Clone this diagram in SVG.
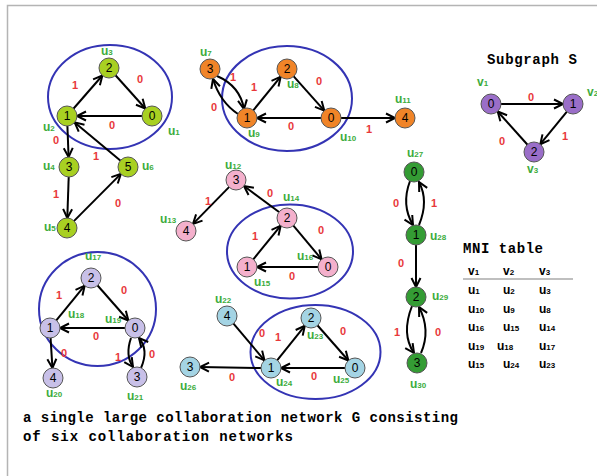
<svg xmlns="http://www.w3.org/2000/svg" width="597" height="476" viewBox="0 0 597 476">
  <defs>
    <marker id="arr" markerUnits="userSpaceOnUse" markerWidth="12" markerHeight="12" refX="9" refY="4.5" orient="auto" overflow="visible">
      <path d="M0,0 L9,4.5 L0,9" fill="none" stroke="#000" stroke-width="2" stroke-linejoin="miter"/>
    </marker>
    <style>
      .edge { fill: none; stroke: #000; stroke-width: 2; marker-end: url(#arr); }
      .ring { fill: none; stroke: #3434b4; stroke-width: 2; }
      .node { stroke: #555; stroke-width: 1; }
      .n { font-family: "Liberation Sans", Arial, sans-serif; font-size: 12px; fill: #000; text-anchor: middle; }
      .w { font-family: "Liberation Sans", Arial, sans-serif; font-size: 11px; font-weight: bold; fill: #e8383a; text-anchor: middle; }
      .u { font-family: "Liberation Sans", Arial, sans-serif; font-size: 12px; font-weight: bold; fill: #3cac3c; }
      .t { font-family: "Liberation Sans", Arial, sans-serif; font-size: 12px; font-weight: bold; fill: #000; }
      .s { font-size: 8px; }
      .title { font-family: "Liberation Mono", "Courier New", monospace; font-size: 14px; font-weight: bold; fill: #000; }
      .g1 { fill: #a8d022; }
      .g2 { fill: #f08428; }
      .gs { fill: #9a6ec8; }
      .g3 { fill: #f4b0cc; }
      .g4 { fill: #349c34; }
      .g5 { fill: #c8c0e8; }
      .g6 { fill: #a4d4e4; }
    </style>
  </defs>

  <rect width="597" height="476" fill="#fff"/>
  <!-- frame -->
  <path d="M7.5,476 V5.5 H597" fill="none" stroke="#b4b4b4" stroke-width="1.5"/>

  <!-- highlighted triangles -->
  <g id="rings">
    <ellipse class="ring" cx="110" cy="97" rx="62" ry="52"/>
    <ellipse class="ring" cx="287" cy="98.5" rx="65" ry="52.5"/>
    <ellipse class="ring" cx="290" cy="251.5" rx="63" ry="47"/>
    <ellipse class="ring" cx="97.5" cy="309" rx="58.5" ry="57"/>
    <ellipse class="ring" cx="315.5" cy="352" rx="65" ry="47"/>
  </g>

  <g id="connectors">
    <!-- network 1 -->
    <line class="edge" x1="73.6" y1="108.5" x2="102.4" y2="75.5"/>
    <line class="edge" x1="115.7" y1="75.5" x2="145.3" y2="108.5"/>
    <line class="edge" x1="142" y1="116" x2="77" y2="116"/>
    <line class="edge" x1="67.4" y1="126" x2="68.6" y2="157"/>
    <line class="edge" x1="120.3" y1="160.6" x2="74.7" y2="122.4"/>
    <line class="edge" x1="68.7" y1="177" x2="67.3" y2="218"/>
    <line class="edge" x1="74.1" y1="220.9" x2="120.9" y2="173.9"/>
    <!-- network 2 -->
    <path class="edge" d="M217,76 Q240,86 244,109"/>
    <path class="edge" d="M238,114 Q220,102 213,79"/>
    <line class="edge" x1="253.3" y1="110.3" x2="280.7" y2="76.7"/>
    <line class="edge" x1="293.7" y1="76.4" x2="324.3" y2="110.6"/>
    <line class="edge" x1="321" y1="118" x2="257" y2="118"/>
    <line class="edge" x1="341" y1="118" x2="395" y2="118"/>
    <!-- subgraph S -->
    <line class="edge" x1="501" y1="104" x2="563" y2="104"/>
    <line class="edge" x1="566.7" y1="111.8" x2="540.3" y2="144.2"/>
    <line class="edge" x1="527.3" y1="144.5" x2="497.7" y2="111.5"/>
    <!-- network 3 -->
    <line class="edge" x1="279" y1="212" x2="244" y2="186"/>
    <line class="edge" x1="229" y1="187.1" x2="193" y2="223.9"/>
    <line class="edge" x1="253.3" y1="259.3" x2="280.7" y2="225.7"/>
    <line class="edge" x1="293.4" y1="225.7" x2="321.6" y2="259.3"/>
    <line class="edge" x1="318" y1="267" x2="257" y2="267"/>
    <!-- network 4 -->
    <path class="edge" d="M410,181 Q401,205 413,225"/>
    <path class="edge" d="M419,225 Q429,201 419,182"/>
    <line class="edge" x1="416" y1="245" x2="416" y2="287"/>
    <path class="edge" d="M412,306 Q401,334 414,353"/>
    <path class="edge" d="M421,353 Q431,330 419,307"/>
    <!-- network 5 -->
    <line class="edge" x1="56.3" y1="320.3" x2="84.7" y2="285.7"/>
    <line class="edge" x1="97.6" y1="285.5" x2="128.4" y2="320.5"/>
    <line class="edge" x1="125" y1="328" x2="60" y2="328"/>
    <line class="edge" x1="50.6" y1="338" x2="52.4" y2="368"/>
    <path class="edge" d="M131,338 Q125,355 133,367"/>
    <path class="edge" d="M141,368 Q149,350 139,338"/>
    <!-- network 6 -->
    <line class="edge" x1="233.5" y1="323.6" x2="264.5" y2="360.4"/>
    <line class="edge" x1="277.3" y1="360.2" x2="304.8" y2="325.8"/>
    <line class="edge" x1="317.6" y1="325.5" x2="348.4" y2="360.5"/>
    <line class="edge" x1="345" y1="368" x2="281" y2="368"/>
    <line class="edge" x1="261" y1="368" x2="200" y2="367"/>
  </g>

  <g id="edge-labels">
    <text class="w" x="75" y="89">1</text>
    <text class="w" x="140" y="83">0</text>
    <text class="w" x="112" y="129">0</text>
    <text class="w" x="56" y="144">0</text>
    <text class="w" x="96" y="160">1</text>
    <text class="w" x="56" y="198">1</text>
    <text class="w" x="118" y="207">0</text>

    <text class="w" x="233" y="81">1</text>
    <text class="w" x="214" y="111">0</text>
    <text class="w" x="254" y="91">1</text>
    <text class="w" x="319" y="85">0</text>
    <text class="w" x="291" y="130">0</text>
    <text class="w" x="369" y="133">1</text>

    <text class="w" x="531" y="101">0</text>
    <text class="w" x="565" y="140">1</text>
    <text class="w" x="502" y="145">0</text>

    <text class="w" x="270" y="197">0</text>
    <text class="w" x="208" y="205">1</text>
    <text class="w" x="255" y="240">1</text>
    <text class="w" x="321" y="234">0</text>
    <text class="w" x="292" y="280">0</text>

    <text class="w" x="396" y="207">0</text>
    <text class="w" x="434" y="207">1</text>
    <text class="w" x="401" y="267">0</text>
    <text class="w" x="397" y="336">1</text>
    <text class="w" x="438" y="336">0</text>

    <text class="w" x="59" y="299">1</text>
    <text class="w" x="124" y="294">0</text>
    <text class="w" x="96" y="340">0</text>
    <text class="w" x="64" y="357">0</text>
    <text class="w" x="118" y="361">1</text>
    <text class="w" x="152" y="358">0</text>

    <text class="w" x="262" y="337">0</text>
    <text class="w" x="278" y="341">1</text>
    <text class="w" x="343" y="335">0</text>
    <text class="w" x="314" y="380">0</text>
    <text class="w" x="232" y="381">0</text>
  </g>

  <!-- network 1 -->
  <g id="u1"><circle class="node g1" cx="152" cy="116" r="10"/><text class="n" x="152" y="120">0</text><text class="u" x="168" y="135">u<tspan class="s">1</tspan></text></g>
  <g id="u2"><circle class="node g1" cx="67" cy="116" r="10"/><text class="n" x="67" y="120">1</text><text class="u" x="43" y="131">u<tspan class="s">2</tspan></text></g>
  <g id="u3"><circle class="node g1" cx="109" cy="68" r="10"/><text class="n" x="109" y="72">2</text><text class="u" x="101" y="55">u<tspan class="s">3</tspan></text></g>
  <g id="u4"><circle class="node g1" cx="69" cy="167" r="10"/><text class="n" x="69" y="171">3</text><text class="u" x="43" y="170">u<tspan class="s">4</tspan></text></g>
  <g id="u5"><circle class="node g1" cx="67" cy="228" r="10"/><text class="n" x="67" y="232">4</text><text class="u" x="44" y="231">u<tspan class="s">5</tspan></text></g>
  <g id="u6"><circle class="node g1" cx="128" cy="167" r="10"/><text class="n" x="128" y="171">5</text><text class="u" x="142" y="170">u<tspan class="s">6</tspan></text></g>

  <!-- network 2 -->
  <g id="u7"><circle class="node g2" cx="210" cy="69" r="10"/><text class="n" x="210" y="73">3</text><text class="u" x="200" y="56">u<tspan class="s">7</tspan></text></g>
  <g id="u8"><circle class="node g2" cx="287" cy="69" r="10"/><text class="n" x="287" y="73">2</text><text class="u" x="287" y="88">u<tspan class="s">8</tspan></text></g>
  <g id="u9"><circle class="node g2" cx="247" cy="118" r="10"/><text class="n" x="247" y="122">1</text><text class="u" x="248" y="137">u<tspan class="s">9</tspan></text></g>
  <g id="u10"><circle class="node g2" cx="331" cy="118" r="10"/><text class="n" x="331" y="122">0</text><text class="u" x="340" y="141">u<tspan class="s">10</tspan></text></g>
  <g id="u11"><circle class="node g2" cx="405" cy="118" r="10"/><text class="n" x="405" y="122">4</text><text class="u" x="395" y="103">u<tspan class="s">11</tspan></text></g>

  <!-- subgraph S -->
  <text class="title" x="487" y="64" textLength="90" lengthAdjust="spacing">Subgraph S</text>
  <g id="v1"><circle class="node gs" cx="491" cy="104" r="10"/><text class="n" x="491" y="108">0</text><text class="u" x="477" y="86">v<tspan class="s">1</tspan></text></g>
  <g id="v2"><circle class="node gs" cx="573" cy="104" r="10"/><text class="n" x="573" y="108">1</text><text class="u" x="587" y="96">v<tspan class="s">2</tspan></text></g>
  <g id="v3"><circle class="node gs" cx="534" cy="152" r="10"/><text class="n" x="534" y="156">2</text><text class="u" x="527" y="173">v<tspan class="s">3</tspan></text></g>

  <!-- network 3 -->
  <g id="u12"><circle class="node g3" cx="236" cy="180" r="10"/><text class="n" x="236" y="184">3</text><text class="u" x="225" y="169">u<tspan class="s">12</tspan></text></g>
  <g id="u13"><circle class="node g3" cx="186" cy="231" r="10"/><text class="n" x="186" y="235">4</text><text class="u" x="160" y="223">u<tspan class="s">13</tspan></text></g>
  <g id="u14"><circle class="node g3" cx="287" cy="218" r="10"/><text class="n" x="287" y="222">2</text><text class="u" x="283" y="201">u<tspan class="s">14</tspan></text></g>
  <g id="u15"><circle class="node g3" cx="247" cy="267" r="10"/><text class="n" x="247" y="271">1</text><text class="u" x="254" y="286">u<tspan class="s">15</tspan></text></g>
  <g id="u16"><circle class="node g3" cx="328" cy="267" r="10"/><text class="n" x="328" y="271">0</text><text class="u" x="297" y="260">u<tspan class="s">16</tspan></text></g>

  <!-- network 4 -->
  <g id="u27"><circle class="node g4" cx="414" cy="172" r="10"/><text class="n" x="414" y="176">0</text><text class="u" x="407" y="157">u<tspan class="s">27</tspan></text></g>
  <g id="u28"><circle class="node g4" cx="416" cy="235" r="10"/><text class="n" x="416" y="239">1</text><text class="u" x="430" y="240">u<tspan class="s">28</tspan></text></g>
  <g id="u29"><circle class="node g4" cx="416" cy="297" r="10"/><text class="n" x="416" y="301">2</text><text class="u" x="432" y="300">u<tspan class="s">29</tspan></text></g>
  <g id="u30"><circle class="node g4" cx="417" cy="363" r="10"/><text class="n" x="417" y="367">3</text><text class="u" x="410" y="388">u<tspan class="s">30</tspan></text></g>

  <!-- network 5 -->
  <g id="u17"><circle class="node g5" cx="91" cy="278" r="10"/><text class="n" x="91" y="282">2</text><text class="u" x="85" y="260">u<tspan class="s">17</tspan></text></g>
  <g id="u18"><circle class="node g5" cx="50" cy="328" r="10"/><text class="n" x="50" y="332">1</text><text class="u" x="68" y="318">u<tspan class="s">18</tspan></text></g>
  <g id="u19"><circle class="node g5" cx="135" cy="328" r="10"/><text class="n" x="135" y="332">0</text><text class="u" x="105" y="323">u<tspan class="s">19</tspan></text></g>
  <g id="u20"><circle class="node g5" cx="53" cy="378" r="10"/><text class="n" x="53" y="382">4</text><text class="u" x="46" y="397">u<tspan class="s">20</tspan></text></g>
  <g id="u21"><circle class="node g5" cx="137" cy="377" r="10"/><text class="n" x="137" y="381">3</text><text class="u" x="127" y="400">u<tspan class="s">21</tspan></text></g>

  <!-- network 6 -->
  <g id="u22"><circle class="node g6" cx="227" cy="316" r="10"/><text class="n" x="227" y="320">4</text><text class="u" x="215" y="303">u<tspan class="s">22</tspan></text></g>
  <g id="u23"><circle class="node g6" cx="311" cy="318" r="10"/><text class="n" x="311" y="322">2</text><text class="u" x="307" y="339">u<tspan class="s">23</tspan></text></g>
  <g id="u24"><circle class="node g6" cx="271" cy="368" r="10"/><text class="n" x="271" y="372">1</text><text class="u" x="276" y="386">u<tspan class="s">24</tspan></text></g>
  <g id="u25"><circle class="node g6" cx="355" cy="368" r="10"/><text class="n" x="355" y="372">0</text><text class="u" x="333" y="383">u<tspan class="s">25</tspan></text></g>
  <g id="u26"><circle class="node g6" cx="190" cy="367" r="10"/><text class="n" x="190" y="371">3</text><text class="u" x="180" y="390">u<tspan class="s">26</tspan></text></g>

  <!-- MNI table -->
  <g id="mni-table">
    <text class="title" x="463" y="253" textLength="80" lengthAdjust="spacing">MNI table</text>
    <text class="t" x="468" y="275">v<tspan class="s">1</tspan></text>
    <text class="t" x="503" y="275">v<tspan class="s">2</tspan></text>
    <text class="t" x="539" y="275">v<tspan class="s">3</tspan></text>
    <line x1="463" y1="279" x2="573" y2="279" stroke="#808080" stroke-width="1.2"/>
    <text class="t" x="468" y="294">u<tspan class="s">1</tspan></text>
    <text class="t" x="503" y="294">u<tspan class="s">2</tspan></text>
    <text class="t" x="539" y="294">u<tspan class="s">3</tspan></text>
    <text class="t" x="468" y="313">u<tspan class="s">10</tspan></text>
    <text class="t" x="503" y="313">u<tspan class="s">9</tspan></text>
    <text class="t" x="539" y="313">u<tspan class="s">8</tspan></text>
    <text class="t" x="468" y="331">u<tspan class="s">16</tspan></text>
    <text class="t" x="503" y="331">u<tspan class="s">15</tspan></text>
    <text class="t" x="539" y="331">u<tspan class="s">14</tspan></text>
    <text class="t" x="468" y="350">u<tspan class="s">19</tspan></text>
    <text class="t" x="497" y="350">u<tspan class="s">18</tspan></text>
    <text class="t" x="539" y="350">u<tspan class="s">17</tspan></text>
    <text class="t" x="468" y="368">u<tspan class="s">15</tspan></text>
    <text class="t" x="503" y="368">u<tspan class="s">24</tspan></text>
    <text class="t" x="539" y="368">u<tspan class="s">23</tspan></text>
  </g>

  <!-- caption -->
  <text class="title" x="23" y="422" textLength="435" lengthAdjust="spacing">a single large collaboration network G consisting</text>
  <text class="title" x="23" y="440.5" textLength="270" lengthAdjust="spacing">of six  collaboration networks</text>
</svg>
